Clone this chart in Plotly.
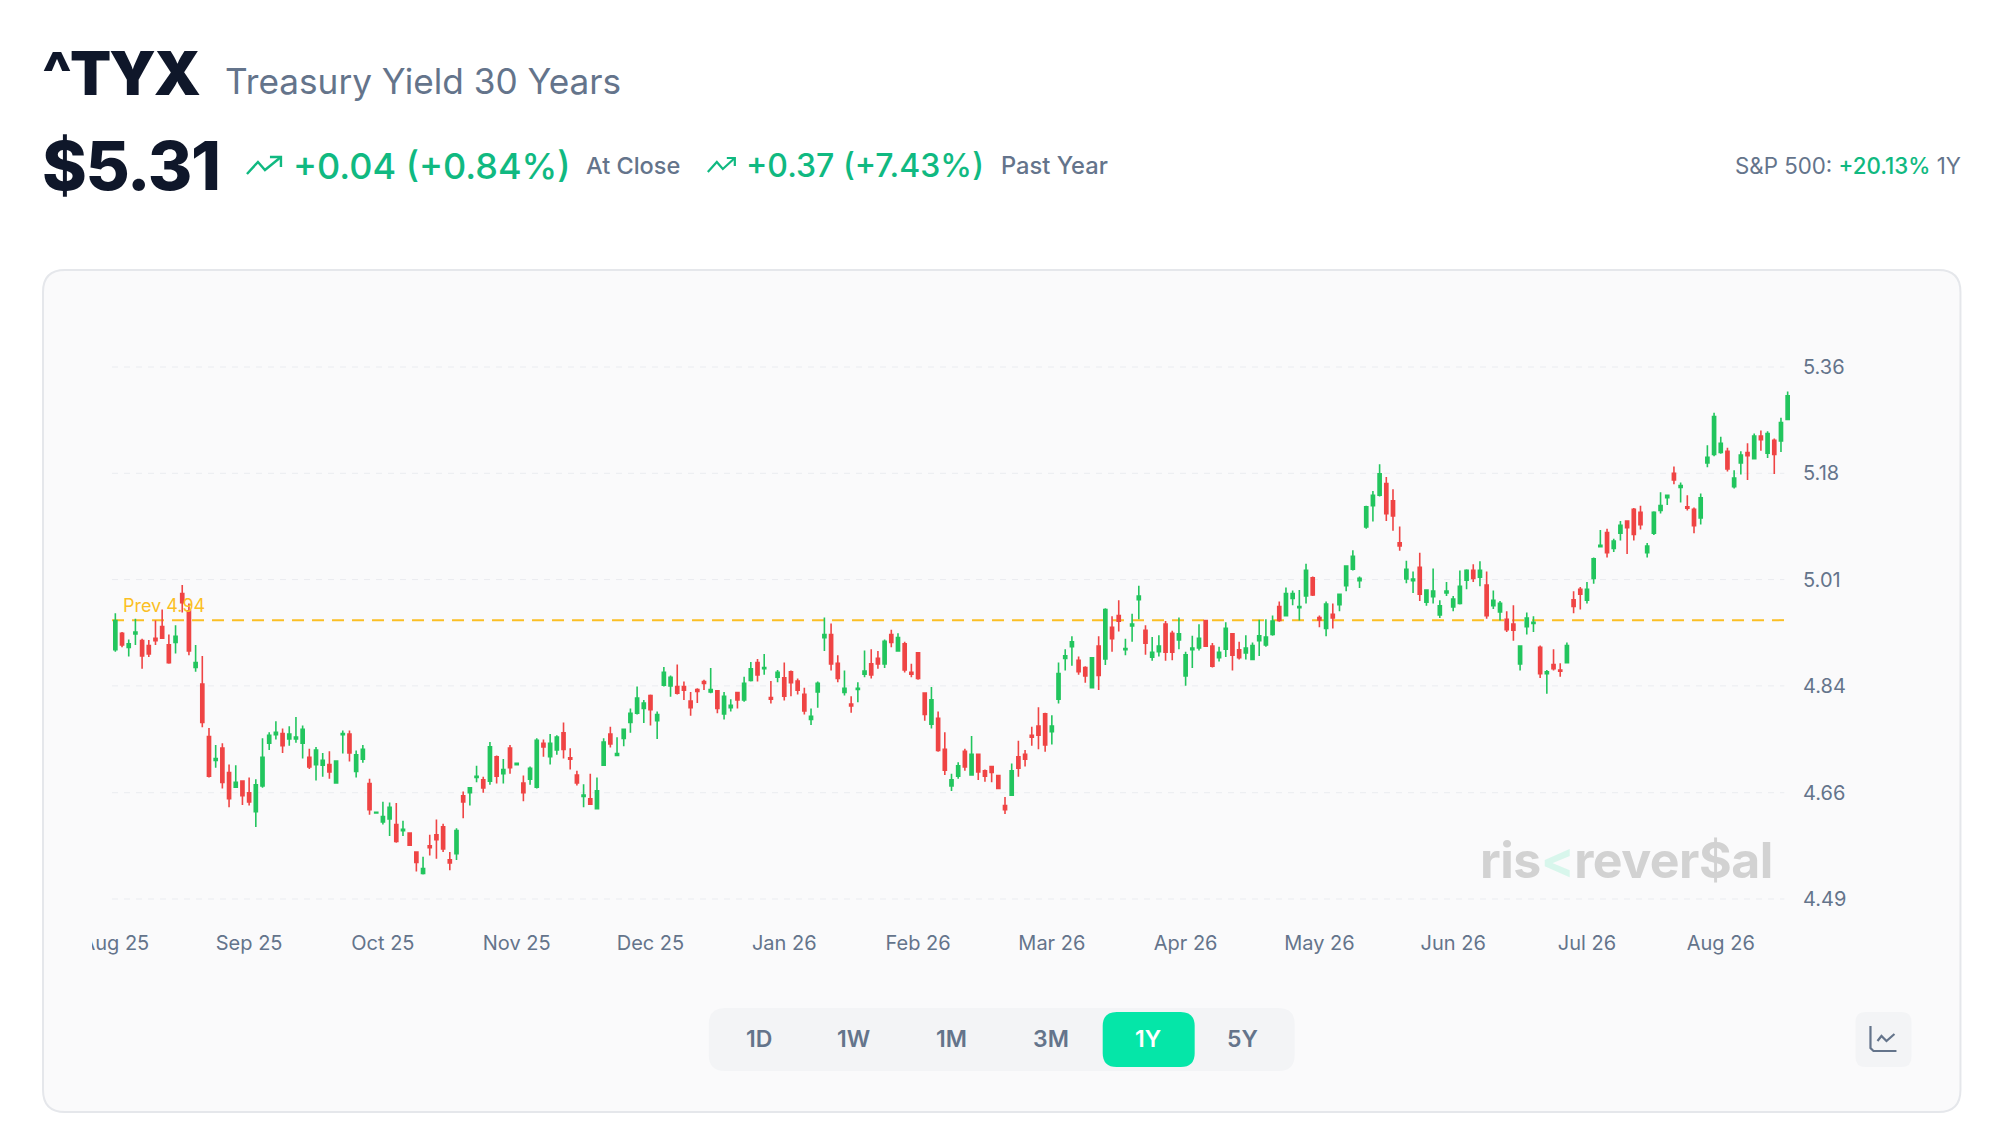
import plotly.graph_objects as go

month_labels = ["Aug 25", "Sep 25", "Oct 25", "Nov 25", "Dec 25", "Jan 26", "Feb 26", "Mar 26", "Apr 26", "May 26", "Jun 26", "Jul 26", "Aug 26"]
y_ticks = [5.358, 5.184, 5.010, 4.836, 4.661, 4.487]
prev_close = 4.9435
periods = ["1D", "1W", "1M", "3M", "1Y", "5Y"]

highs = [
4.955,4.924,4.912,4.946,4.913,4.911,4.943,4.961,4.920,4.935,
5.001,4.971,4.903,4.885,4.767,4.739,4.742,4.707,4.706,4.680,
4.686,4.683,4.750,4.760,4.778,4.766,4.770,4.785,4.771,4.733,
4.736,4.726,4.729,4.714,4.763,4.763,4.730,4.739,4.684,4.629,
4.646,4.645,4.644,4.615,4.596,4.564,4.556,4.592,4.617,4.610,
4.564,4.603,4.663,4.670,4.705,4.687,4.744,4.722,4.716,4.739,
4.709,4.689,4.704,4.750,4.748,4.757,4.755,4.776,4.734,4.697,
4.675,4.692,4.686,4.750,4.769,4.752,4.766,4.799,4.835,4.813,
4.822,4.794,4.867,4.853,4.871,4.843,4.826,4.832,4.846,4.865,
4.829,4.826,4.814,4.826,4.851,4.875,4.880,4.888,4.844,4.862,
4.874,4.861,4.848,4.833,4.799,4.843,4.948,4.938,4.886,4.861,
4.819,4.842,4.894,4.896,4.893,4.912,4.928,4.922,4.908,4.872,
4.890,4.824,4.834,4.794,4.760,4.692,4.711,4.733,4.754,4.724,
4.699,4.705,4.690,4.654,4.709,4.746,4.731,4.769,4.801,4.792,
4.788,4.874,4.896,4.917,4.884,4.868,4.883,4.917,4.963,4.950,
4.976,4.913,4.954,5.000,4.935,4.916,4.919,4.942,4.926,4.948,
4.892,4.918,4.937,4.944,4.906,4.900,4.940,4.922,4.908,4.919,
4.907,4.944,4.945,4.951,4.974,4.997,4.992,4.993,5.036,5.015,
4.951,4.974,4.971,4.987,5.033,5.058,5.015,5.131,5.155,5.199,
5.178,5.158,5.097,5.041,5.023,5.054,4.994,5.028,4.976,5.006,
4.983,5.025,5.027,5.035,5.040,5.023,4.992,4.975,4.958,4.968,
4.902,4.956,4.950,4.902,4.862,4.896,4.873,4.907,4.991,4.998,
5.006,5.046,5.091,5.093,5.077,5.106,5.107,5.127,5.131,5.070,
5.122,5.153,5.149,5.195,5.169,5.148,5.128,5.151,5.230,5.283,
5.244,5.226,5.189,5.220,5.233,5.249,5.254,5.253,5.241,5.275,5.318]

lows = [
4.892,4.899,4.884,4.903,4.864,4.883,4.903,4.913,4.872,4.889,
4.956,4.886,4.859,4.768,4.686,4.702,4.668,4.637,4.669,4.641,
4.640,4.605,4.669,4.731,4.748,4.726,4.738,4.743,4.717,4.700,
4.681,4.687,4.684,4.676,4.725,4.712,4.686,4.710,4.625,4.628,
4.609,4.590,4.579,4.590,4.574,4.532,4.527,4.558,4.553,4.564,
4.534,4.551,4.619,4.640,4.678,4.661,4.674,4.676,4.676,4.692,
4.707,4.647,4.674,4.668,4.720,4.707,4.723,4.717,4.699,4.673,
4.637,4.641,4.635,4.705,4.735,4.722,4.737,4.759,4.789,4.775,
4.771,4.749,4.835,4.818,4.822,4.813,4.787,4.808,4.829,4.824,
4.791,4.781,4.794,4.799,4.810,4.843,4.843,4.854,4.807,4.842,
4.812,4.819,4.822,4.789,4.772,4.800,4.893,4.861,4.842,4.820,
4.792,4.809,4.850,4.848,4.864,4.865,4.899,4.892,4.858,4.850,
4.846,4.779,4.766,4.728,4.690,4.664,4.684,4.697,4.689,4.682,
4.679,4.678,4.667,4.626,4.657,4.687,4.704,4.738,4.732,4.728,
4.740,4.807,4.861,4.869,4.854,4.841,4.832,4.829,4.870,4.892,
4.925,4.886,4.908,4.945,4.887,4.877,4.884,4.877,4.878,4.896,
4.836,4.865,4.894,4.900,4.866,4.876,4.883,4.861,4.879,4.879,
4.878,4.885,4.900,4.918,4.941,4.950,4.968,4.943,4.971,4.983,
4.932,4.917,4.930,4.958,4.991,5.025,4.996,5.093,5.105,5.146,
5.106,5.090,5.057,5.004,4.988,4.975,4.967,4.971,4.947,4.983,
4.958,4.969,4.994,5.006,4.999,4.946,4.962,4.943,4.924,4.910,
4.861,4.920,4.924,4.849,4.823,4.861,4.851,4.874,4.955,4.961,
4.971,5.003,5.064,5.046,5.055,5.074,5.052,5.074,5.092,5.046,
5.083,5.118,5.132,5.166,5.136,5.123,5.086,5.100,5.194,5.212,
5.216,5.187,5.159,5.182,5.173,5.207,5.221,5.209,5.183,5.219,5.271]

opens = [
4.895,4.922,4.899,4.921,4.910,4.902,4.914,4.933,4.903,4.907,
4.987,4.959,4.866,4.839,4.753,4.714,4.734,4.694,4.670,4.680,
4.661,4.630,4.672,4.742,4.756,4.758,4.749,4.749,4.742,4.719,
4.707,4.706,4.707,4.677,4.756,4.757,4.696,4.716,4.676,4.628,
4.613,4.618,4.609,4.599,4.595,4.564,4.529,4.574,4.592,4.605,
4.551,4.561,4.656,4.661,4.686,4.682,4.680,4.720,4.692,4.734,
4.707,4.677,4.683,4.670,4.742,4.720,4.731,4.759,4.718,4.690,
4.655,4.651,4.635,4.706,4.757,4.722,4.750,4.776,4.791,4.799,
4.820,4.779,4.837,4.836,4.835,4.835,4.811,4.830,4.843,4.826,
4.828,4.790,4.800,4.825,4.813,4.845,4.874,4.864,4.817,4.850,
4.849,4.859,4.844,4.822,4.781,4.826,4.915,4.920,4.873,4.825,
4.806,4.830,4.855,4.872,4.881,4.872,4.920,4.893,4.905,4.858,
4.890,4.824,4.773,4.783,4.732,4.672,4.688,4.729,4.690,4.724,
4.697,4.704,4.689,4.640,4.657,4.720,4.724,4.755,4.770,4.790,
4.761,4.814,4.881,4.900,4.878,4.866,4.833,4.901,4.880,4.932,
4.951,4.895,4.934,4.977,4.927,4.883,4.892,4.937,4.922,4.911,
4.852,4.895,4.898,4.943,4.901,4.882,4.896,4.921,4.895,4.890,
4.879,4.910,4.903,4.920,4.966,4.951,4.979,4.964,4.983,5.013,
4.948,4.930,4.953,4.969,5.000,5.027,5.008,5.096,5.131,5.148,
5.167,5.139,5.070,5.011,5.008,5.030,4.973,4.982,4.952,4.988,
4.965,4.971,5.009,5.025,5.014,5.001,4.967,4.957,4.945,4.937,
4.872,4.933,4.938,4.899,4.856,4.871,4.862,4.874,4.977,4.994,
4.976,5.012,5.064,5.087,5.061,5.086,5.106,5.125,5.120,5.054,
5.086,5.123,5.144,5.184,5.161,5.129,5.125,5.111,5.201,5.215,
5.218,5.220,5.162,5.201,5.218,5.208,5.245,5.217,5.238,5.237,5.272]

closes = [
4.943,4.903,4.905,4.924,4.885,4.888,4.910,4.914,4.874,4.917,
4.972,4.893,4.874,4.776,4.688,4.717,4.678,4.651,4.678,4.656,
4.646,4.674,4.719,4.755,4.760,4.738,4.757,4.752,4.765,4.703,
4.731,4.714,4.695,4.713,4.758,4.726,4.723,4.732,4.633,4.629,
4.622,4.637,4.581,4.601,4.575,4.547,4.537,4.571,4.584,4.569,
4.546,4.599,4.646,4.669,4.688,4.669,4.736,4.688,4.699,4.702,
4.709,4.661,4.701,4.747,4.736,4.742,4.752,4.732,4.716,4.677,
4.657,4.642,4.664,4.744,4.741,4.725,4.765,4.791,4.816,4.808,
4.797,4.789,4.858,4.850,4.824,4.829,4.800,4.827,4.840,4.830,
4.799,4.819,4.804,4.813,4.840,4.864,4.854,4.866,4.814,4.858,
4.819,4.841,4.829,4.795,4.786,4.840,4.920,4.872,4.848,4.832,
4.803,4.832,4.860,4.854,4.872,4.909,4.907,4.915,4.862,4.855,
4.848,4.789,4.813,4.730,4.698,4.682,4.705,4.703,4.724,4.695,
4.688,4.694,4.668,4.633,4.697,4.701,4.716,4.752,4.755,4.739,
4.770,4.856,4.885,4.908,4.859,4.852,4.882,4.853,4.961,4.913,
4.942,4.897,4.937,4.983,4.906,4.891,4.901,4.891,4.891,4.921,
4.887,4.898,4.914,4.901,4.868,4.891,4.930,4.886,4.882,4.898,
4.902,4.918,4.916,4.942,4.943,4.987,4.987,4.966,5.025,4.985,
4.944,4.970,4.947,4.986,5.032,5.048,5.012,5.129,5.148,5.183,
5.118,5.114,5.065,5.027,5.011,4.986,4.993,4.991,4.967,4.991,
4.978,4.999,5.025,5.012,5.025,4.951,4.976,4.971,4.928,4.927,
4.901,4.947,4.940,4.856,4.859,4.864,4.860,4.902,4.966,4.986,
4.994,5.044,5.066,5.054,5.073,5.099,5.095,5.084,5.100,5.065,
5.120,5.131,5.148,5.173,5.164,5.127,5.098,5.144,5.210,5.277,
5.233,5.191,5.176,5.214,5.213,5.245,5.239,5.249,5.215,5.267,5.311]

# ---- layout in page pixels ----
W, H = 1996, 1140
PL, PR, PT, PB = 112.0, 1791.5, 357.0, 909.0
def px(x): return (x - PL) / (PR - PL)
def py(y): return (PB - y) / (PB - PT)

SLATE, DARK, GREEN = "#64748b", "#0f172a", "#10b981"
CARD, BORDER = "#fafafb", "#e5e7eb"
FONT = "Inter"

def rrect(x0, y0, x1, y1, r):
    a, b, c, d = px(x0), py(y0), px(x1), py(y1)
    return (f"M {px(x0+r)} {b} L {px(x1-r)} {b} Q {c} {b} {c} {py(y0+r)} L {c} {py(y1-r)} Q {c} {d} {px(x1-r)} {d} "
            f"L {px(x0+r)} {d} Q {a} {d} {a} {py(y1-r)} L {a} {py(y0+r)} Q {a} {b} {px(x0+r)} {b} Z")

def box(x0, y0, x1, y1, r, fill, line=None, lw=0, layer="below"):
    return dict(type="path", xref="paper", yref="paper", path=rrect(x0, y0, x1, y1, r), fillcolor=fill,
                line=dict(color=line or fill, width=lw), layer=layer)

def poly(points, color, w):
    p = "M " + " L ".join(f"{px(x)} {py(y)}" for x, y in points)
    return dict(type="path", xref="paper", yref="paper", path=p, line=dict(color=color, width=w), layer="above")

def label(x, y, text, size, color, anchor="left", weight=400, font=FONT):
    return dict(xref="paper", yref="paper", x=px(x), y=py(y), text=text, showarrow=False, xanchor=anchor, yanchor="middle",
                xshift=0, yshift=0, borderpad=0, font=dict(family=font, size=size, color=color, weight=weight))

x_idx = list(range(len(closes)))

fig = go.Figure(go.Candlestick(
    x=x_idx, open=opens, high=highs, low=lows, close=closes,
    increasing=dict(line=dict(color="#22c55e", width=1.6), fillcolor="#22c55e"),
    decreasing=dict(line=dict(color="#ef4444", width=1.6), fillcolor="#ef4444"),
    whiskerwidth=0, hoverinfo="skip", showlegend=False))

shapes = [box(43, 270, 1961, 1112, 22, CARD, BORDER, 2)]
for t in y_ticks:
    shapes.append(dict(type="line", xref="x", yref="y", x0=-0.5, x1=249.5, y0=t, y1=t, layer="below",
                       line=dict(color="#eaecf0", width=1, dash="6px,6px")))
shapes.append(dict(type="line", xref="x", yref="y", x0=-0.5, x1=249.5, y0=prev_close, y1=prev_close, layer="below",
                   line=dict(color="#fbbf24", width=2, dash="12px,8px")))
# clip of the first month label at the chart's left edge
shapes.append(box(60, 925, 92, 962, 0, CARD, layer="above"))
# period selector
shapes.append(box(709, 1008, 1295, 1071, 16, "#f3f4f6"))
shapes.append(box(1103, 1012, 1195, 1067, 14, "#05e6a8"))
# chart type button
shapes.append(box(1856, 1012, 1912, 1067, 10, "#f3f4f6"))
shapes.append(poly([(1871, 1026), (1871, 1048), (1874, 1051), (1897, 1051)], SLATE, 2.2))
shapes.append(poly([(1878, 1041), (1882, 1036), (1887, 1041), (1895, 1034)], SLATE, 2.2))
# trend arrows
shapes.append(poly([(247, 174), (258, 162), (265, 170), (281, 157)], GREEN, 2.4))
shapes.append(poly([(270, 157), (281, 157), (281, 167)], GREEN, 2.4))
shapes.append(poly([(708, 172), (717, 162), (723, 169), (735, 158)], GREEN, 2.2))
shapes.append(poly([(727, 158), (735, 158), (735, 166)], GREEN, 2.2))

ann = [
    label(41, 73, '<span style="letter-spacing:-2px">^TYX</span>', 60, DARK, weight=900),
    label(224, 81, "Treasury Yield 30 Years", 35.2, SLATE),
    label(41, 165, '<span style="letter-spacing:-1.5px">$5.31</span>', 68, DARK, weight=800),
    label(292, 166, "+0.04 (+0.84%)", 36, GREEN, weight=500),
    label(585, 165, "At Close", 23.5, SLATE, weight=500),
    label(745, 166, "+0.37 (+7.43%)", 32, GREEN, weight=500),
    label(1000, 165, "Past Year", 23.7, SLATE, weight=500),
    label(1963, 165, f'S&P 500: <span style="color:{GREEN};font-weight:500">+20.13%</span> 1Y', 22.3, SLATE, anchor="right"),
    label(122, 605, "Prev 4.94", 18, "#fbbf24"),
    label(1774, 860, f'<span style="letter-spacing:-0.5px">ris<span style="color:#d8f6ec">&lt;</span>rever$al</span>', 50, "#d2d2d2", anchor="right", weight=700),
]
for name, cx in zip(periods, [759, 854, 952, 1051.5, 1148, 1242.5]):
    ann.append(label(cx, 1039, name, 23, "#ffffff" if name == "1Y" else SLATE, anchor="center", weight=600))

fig.update_layout(
    width=W, height=H, autosize=False,
    margin=dict(l=PL, r=W - PR, t=PT, b=H - PB, pad=0),
    paper_bgcolor="#ffffff", plot_bgcolor="rgba(0,0,0,0)",
    boxgap=0.34, shapes=shapes, annotations=ann, showlegend=False,
    xaxis=dict(type="linear", range=[-0.5, 250.5], rangeslider=dict(visible=False), showgrid=False, zeroline=False, showline=False,
               tickmode="array", tickvals=x_idx[::20], ticktext=month_labels, ticks="outside", ticklen=16,
               tickcolor="rgba(0,0,0,0)", tickfont=dict(family=FONT, size=20, color=SLATE)),
    yaxis=dict(side="right", range=[4.4706, 5.3744], showgrid=False, zeroline=False, showline=False,
               tickmode="array", tickvals=y_ticks, tickformat=".2f", ticks="outside", ticklen=7,
               tickcolor="rgba(0,0,0,0)", tickfont=dict(family=FONT, size=20, color=SLATE)),
)

fig.write_html("out.html", config=dict(displayModeBar=False),
               post_script="document.body.style.margin='0';document.documentElement.style.overflow='hidden';")
